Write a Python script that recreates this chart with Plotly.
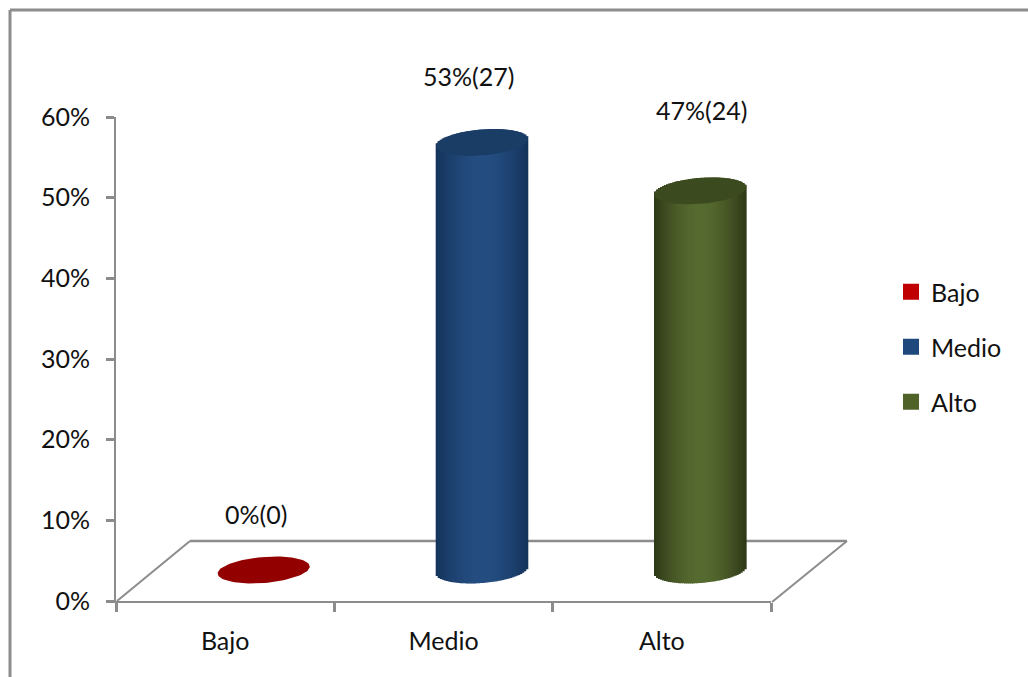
import numpy as np
import plotly.graph_objects as go

categories = ["Bajo", "Medio", "Alto"]
percentages = [0, 53, 47]
counts = [0, 27, 24]
y_ticks = [0, 10, 20, 30, 40, 50, 60]

W, H = 1028, 677
LEFT, RIGHT, BOTTOM, TOP = 116.0, 771.0, 601.0, 117.0
DX_PX, DY_PX = 38.5, 31.0
PX_X = (RIGHT - LEFT) / 3.0
PX_Y = (BOTTOM - TOP) / 60.0
A, B, K = 46.0, 13.0, 3.5 / 46.0

dark = {"Bajo": "#920000", "Medio": "#14335a", "Alto": "#2c3716"}
light = {"Bajo": "#920000", "Medio": "#254e82", "Alto": "#566a2f"}
cap = {"Bajo": "#920000", "Medio": "#1a3d66", "Alto": "#3c4a1f"}
legend_col = {"Bajo": "#c00000", "Medio": "#1f497d", "Alto": "#4f6228"}
label_shift = {"Bajo": (-8, 56), "Medio": (-14, 66), "Alto": (1, 81)}
GRAY = "#8c8c8c"
FONT = "Lato"
FS = 25


def rgb(h):
    return np.array([int(h[i:i + 2], 16) for i in (1, 3, 5)], float)


def mix(c1, c2, f):
    v = rgb(c1) + (rgb(c2) - rgb(c1)) * f
    return "rgb(%d,%d,%d)" % tuple(v)


def px(x):
    return x / W


def py(y):
    return 1 - y / H


fig = go.Figure()

n_strips = 46
for i, (cat, val) in enumerate(zip(categories, percentages)):
    t = (np.arange(n_strips) + 0.5) / n_strips * 2 - 1
    xs_px = t * A
    half = B * np.sqrt(1 - t ** 2)
    tilt = K * xs_px
    low = (-half + tilt) / PX_Y
    high = val + (half + tilt) / PX_Y
    if val > 0:
        cols = [mix(dark[cat], light[cat], 1 - abs(u) ** 1.8) for u in t]
        fig.add_trace(go.Bar(
            x=i + xs_px / PX_X, y=high - low, base=low,
            width=2.6 * A / n_strips / PX_X,
            marker=dict(color=cols, line=dict(width=0)),
            xaxis="x2", yaxis="y2", showlegend=False, hoverinfo="skip"))
    th = np.linspace(0, 2 * np.pi, 90)
    ex = A * np.cos(th)
    ey = B * np.sin(th) + K * ex
    fig.add_trace(go.Scatter(
        x=i + ex / PX_X, y=val + ey / PX_Y, mode="lines", fill="toself",
        fillcolor=cap[cat], line=dict(width=0, color=cap[cat]),
        xaxis="x2", yaxis="y2", showlegend=False, hoverinfo="skip"))
    sx, sy = label_shift[cat]
    fig.add_annotation(x=i, y=val, xref="x2", yref="y2", xshift=sx, yshift=sy,
                       text="%d%%(%d)" % (val, counts[i]), showarrow=False,
                       font=dict(family=FONT, size=FS, color="#111111"))

for j, cat in enumerate(categories):
    fig.add_trace(go.Scatter(
        x=[None], y=[None], mode="markers", name=cat, legendgroup=cat,
        marker=dict(symbol="square", size=16, color=legend_col[cat])))

shapes = []
for (x0, y0, x1, y1, w) in [
    (10, 10, 10, H, 3), (10, 10, W, 10, 3),
    (117, 601, 190, 541, 2), (190, 541, 847, 541, 2.5), (847, 541, 772, 602, 2),
]:
    shapes.append(dict(type="line", xref="paper", yref="paper", x0=px(x0), y0=py(y0),
                       x1=px(x1), y1=py(y1), line=dict(color=GRAY, width=w), layer="below"))

dom_x = [px(LEFT), px(RIGHT)]
dom_y = [py(BOTTOM), py(TOP)]
fig.update_layout(
    width=W, height=H, margin=dict(l=0, r=0, t=0, b=0, pad=0, autoexpand=False), autosize=False,
    paper_bgcolor="white", plot_bgcolor="rgba(0,0,0,0)", barmode="overlay",
    font=dict(family=FONT, size=FS, color="#111111"), shapes=shapes,
    xaxis=dict(domain=dom_x, type="category", categoryorder="array", categoryarray=categories,
               tickmode="array", tickvals=categories, ticktext=categories,
               range=[-0.5, 2.5], tickson="boundaries", ticks="outside", ticklen=9, tickwidth=2.5,
               tickcolor=GRAY, showline=True, linecolor=GRAY, linewidth=1.5, showgrid=False,
               zeroline=False, ticklabelstandoff=17, anchor="y"),
    yaxis=dict(domain=dom_y, range=[0, 60], tickvals=y_ticks,
               ticktext=["%d%%" % v for v in y_ticks], ticks="outside", ticklen=8, tickwidth=2.5,
               tickcolor=GRAY, showline=True, linecolor=GRAY, linewidth=2, showgrid=False,
               zeroline=False, ticklabelstandoff=11, anchor="x"),
    xaxis2=dict(domain=dom_x, range=[-0.5 - DX_PX / PX_X, 2.5 - DX_PX / PX_X], visible=False,
                overlaying="x", anchor="y2"),
    yaxis2=dict(domain=dom_y, range=[-DY_PX / PX_Y, 60 - DY_PX / PX_Y], visible=False,
                overlaying="y", anchor="x2"),
    legend=dict(x=px(891), y=py(269), xanchor="left", yanchor="top", tracegroupgap=19.5,
                itemwidth=30, font=dict(family=FONT, size=FS, color="#111111"),
                bgcolor="rgba(0,0,0,0)"),
)

fig.write_html("out.html", post_script="document.body.style.margin='0';document.body.style.overflow='hidden';",
               config={"displayModeBar": False})
